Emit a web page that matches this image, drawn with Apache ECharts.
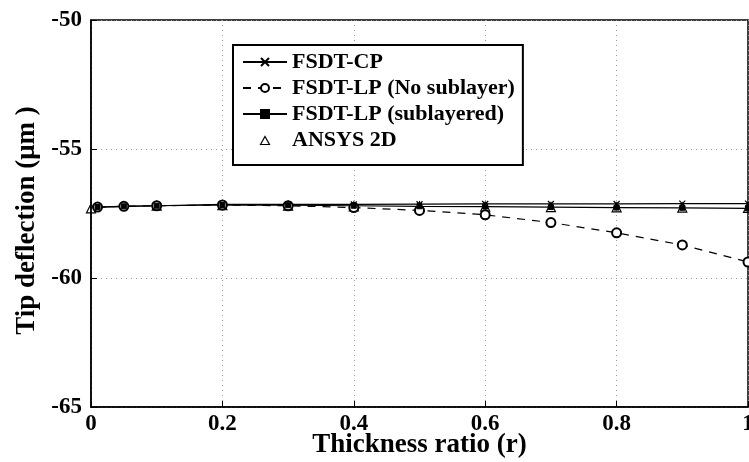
<!DOCTYPE html>
<html>
<head>
<meta charset="utf-8">
<script src="https://cdn.jsdelivr.net/npm/echarts@6/dist/echarts.min.js"></script>
<style>html,body{margin:0;padding:0;background:#fff}#c{width:749px;height:462px}</style>
</head>
<body>
<div id="c"></div>
<script>
var xVals = [0.01, 0.05, 0.1, 0.2, 0.3, 0.4, 0.5, 0.6, 0.7, 0.8, 0.9, 1.0];
var fsdtCP = [-57.25, -57.22, -57.2, -57.15, -57.15, -57.15, -57.14, -57.13, -57.13, -57.13, -57.12, -57.12];
var fsdtLPNoSub = [-57.25, -57.22, -57.2, -57.17, -57.2, -57.27, -57.38, -57.55, -57.85, -58.25, -58.72, -59.38];
var fsdtLPSub = [-57.25, -57.22, -57.2, -57.17, -57.18, -57.2, -57.22, -57.23, -57.25, -57.27, -57.28, -57.3];
var ansysX = [0, 0.1, 0.2, 0.3, 0.4, 0.5, 0.6, 0.7, 0.8, 0.9, 1.0];
var ansys2D = [-57.3, -57.2, -57.18, -57.2, -57.22, -57.22, -57.23, -57.25, -57.26, -57.27, -57.28];
var xTicks = [0, 0.2, 0.4, 0.6, 0.8, 1];
var yTicks = [-65, -60, -55, -50];
var seriesNames = ['FSDT-CP', 'FSDT-LP (No sublayer)', 'FSDT-LP (sublayered)', 'ANSYS 2D'];

function pairs(xs, ys) { return xs.map(function (x, i) { return [x, ys[i]]; }); }

var font = '"Liberation Serif", "DejaVu Serif", serif';
// outline triangle legend icon, padded to the legend item box so it keeps its shape
var triIcon = 'path://M0,0M44,10M17.5,9.5L22,1.5L26.5,9.5Z';
var chart = echarts.init(document.getElementById('c'));
chart.setOption({
  animation: false,
  backgroundColor: '#fff',
  grid: { left: 91, right: 1, top: 20, bottom: 55, outerBoundsMode: 'none', containLabel: false,
    show: true, borderColor: '#000', borderWidth: 1.5 },
  legend: {
    left: 233, top: 45, orient: 'vertical',
    backgroundColor: '#fff', borderColor: '#000', borderWidth: 2,
    padding: [6, 8, 14, 9], itemGap: 4, itemWidth: 44, itemHeight: 10,
    textStyle: { fontFamily: font, fontSize: 22, fontWeight: 'bold', color: '#000' },
    data: [
      { name: seriesNames[0] },
      { name: seriesNames[1] },
      { name: seriesNames[2] },
      { name: seriesNames[3], icon: triIcon,
        itemStyle: { color: 'rgba(0,0,0,0)', borderColor: '#000', borderWidth: 1.2, opacity: 1 } }
    ]
  },
  xAxis: {
    type: 'value', min: 0, max: 1, interval: 0.2,
    name: 'Thickness ratio (r)', nameLocation: 'middle', nameGap: 25, nameMoveOverlap: false,
    nameTextStyle: { fontFamily: font, fontSize: 27, fontWeight: 'bold', color: '#000', verticalAlign: 'top' },
    axisLine: { show: true, onZero: false, lineStyle: { color: '#000', width: 1.5 } },
    axisTick: { show: true, inside: true, length: 6, lineStyle: { color: '#000' } },
    axisLabel: { fontFamily: font, fontSize: 23, fontWeight: 'bold', color: '#000', margin: 6,
      formatter: function (v) { return xTicks.indexOf(Math.round(v * 10) / 10) >= 0 ? String(Math.round(v * 10) / 10) : ''; } },
    splitLine: { show: true, lineStyle: { color: '#999', type: [1, 4], width: 1 } }
  },
  yAxis: {
    type: 'value', min: -65, max: -50, interval: 5,
    name: 'Tip deflection (μm )', nameLocation: 'middle', nameGap: 50, nameMoveOverlap: false,
    nameTextStyle: { fontFamily: font, fontSize: 27, fontWeight: 'bold', color: '#000', padding: [0, 14, 0, 0] },
    axisLine: { show: true, onZero: false, lineStyle: { color: '#000', width: 1.5 } },
    axisTick: { show: true, inside: true, length: 6, lineStyle: { color: '#000' } },
    axisLabel: { fontFamily: font, fontSize: 23, fontWeight: 'bold', color: '#000', margin: 9,
      formatter: function (v) { return yTicks.indexOf(v) >= 0 ? String(v) : ''; } },
    splitLine: { show: true, lineStyle: { color: '#999', type: [1, 4], width: 1 } }
  },
  series: [
    {
      name: seriesNames[0], type: 'line', data: pairs(xVals, fsdtCP),
      symbol: 'path://M0,0L10,10M10,0L0,10', symbolSize: 6,
      lineStyle: { color: '#000', width: 1.2 },
      itemStyle: { color: '#000', borderColor: '#000', borderWidth: 1.2 }
    },
    {
      name: seriesNames[1], type: 'line', data: pairs(xVals, fsdtLPNoSub),
      symbol: 'emptyCircle', symbolSize: 9,
      lineStyle: { color: '#000', width: 1.2, type: [8, 7] },
      itemStyle: { color: '#000', borderColor: '#000', borderWidth: 1.2 }
    },
    {
      name: seriesNames[2], type: 'line', data: pairs(xVals, fsdtLPSub),
      symbol: 'rect', symbolSize: 5,
      lineStyle: { color: '#000', width: 1.2 },
      itemStyle: { color: '#000', borderColor: '#000', borderWidth: 1 }
    },
    {
      name: seriesNames[3], type: 'scatter', data: pairs(ansysX, ansys2D),
      symbol: 'triangle', symbolSize: 9,
      itemStyle: { color: 'rgba(0,0,0,0)', borderColor: '#000', borderWidth: 1.2, opacity: 1 }
    }
  ]
});
</script>
</body>
</html>
